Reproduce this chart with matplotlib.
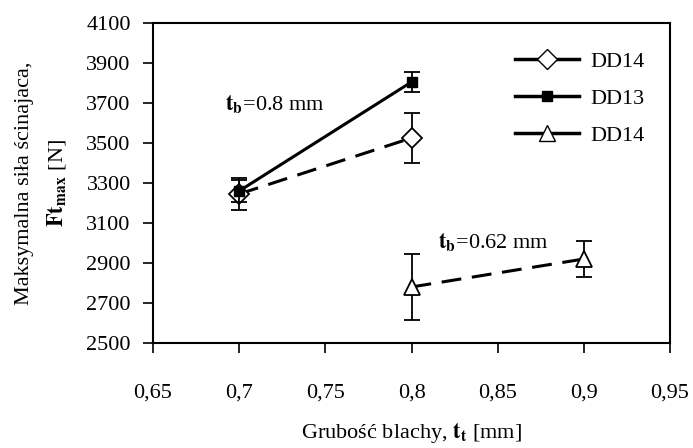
import matplotlib.pyplot as plt
from matplotlib.lines import Line2D

plt.rcParams['font.family'] = 'Liberation Serif'
plt.rcParams['mathtext.fontset'] = 'stix'

x_a = [0.7, 0.8]
dd14_a = [3245, 3525]
dd14_a_err = [80, 125]
dd13 = [3260, 3805]
dd13_err = [55, 48]
x_b = [0.8, 0.9]
dd14_b = [2780, 2920]
dd14_b_err = [163, 88]

fs = 16
fig = plt.figure(figsize=(6.93, 4.48), dpi=100)
ax = fig.add_axes([0.2208, 0.2344, 0.7460, 0.7143])

dash = (0, (6.5, 3.5))
ax.errorbar(x_a, dd14_a, yerr=dd14_a_err, color='black', ls=dash, lw=2.2,
            marker='D', ms=10, mfc='white', mec='black', mew=1.3,
            ecolor='black', elinewidth=1.3, capsize=6, capthick=1.3, zorder=3)
ax.errorbar(x_a, dd13, yerr=dd13_err, color='black', ls='-', lw=2.2,
            marker='s', ms=7.5, mfc='black', mec='black',
            ecolor='black', elinewidth=1.3, capsize=6, capthick=1.3, zorder=4)
ax.errorbar(x_b, dd14_b, yerr=dd14_b_err, color='black', ls=dash, lw=2.2,
            marker='^', ms=12, mfc='white', mec='black', mew=1.3,
            ecolor='black', elinewidth=1.3, capsize=6, capthick=1.3, zorder=3)

ax.text(0.6915, 3690, r'$\mathbf{t_b}$=0.8 mm', fontsize=fs, va='center')
ax.text(0.8152, 3000, r'$\mathbf{t_b}$=0.62 mm', fontsize=fs, va='center')

handles = [
    Line2D([], [], color='black', lw=2.5, marker='D', ms=10, mfc='white', mec='black'),
    Line2D([], [], color='black', lw=2.5, marker='s', ms=7.5, mfc='black'),
    Line2D([], [], color='black', lw=2.5, marker='^', ms=12, mfc='white', mec='black'),
]
ax.legend(handles, ['DD14', 'DD13', 'DD14'], loc='upper right', frameon=False,
          fontsize=fs, handlelength=2.9, labelspacing=0.75, handletextpad=0.5,
          bbox_to_anchor=(0.99, 0.975))

ax.set_xlim(0.65, 0.95)
ax.set_ylim(2500, 4100)
ax.set_xticks([0.65, 0.7, 0.75, 0.8, 0.85, 0.9, 0.95])
ax.set_xticklabels(['0,65', '0,7', '0,75', '0,8', '0,85', '0,9', '0,95'])
ax.set_yticks(range(2500, 4101, 200))
ax.tick_params(axis='x', direction='out', length=7, width=1.2, pad=22, labelsize=fs)
ax.tick_params(axis='y', direction='out', length=7, width=1.2, pad=9, labelsize=fs)
for s in ax.spines.values():
    s.set_linewidth(1.5)

ax.set_xlabel(r'Grubość blachy, $\mathbf{t_t}$ [mm]', fontsize=fs)
ax.xaxis.set_label_coords(0.5, -0.245)
ax.set_ylabel('Maksymalna siła ścinajaca,\n' + r'$\mathbf{Ft_{max}}$ [N]',
              fontsize=fs, linespacing=1.6)
ax.yaxis.set_label_coords(-0.165, 0.5)

fig.savefig('out.png', dpi=100)
